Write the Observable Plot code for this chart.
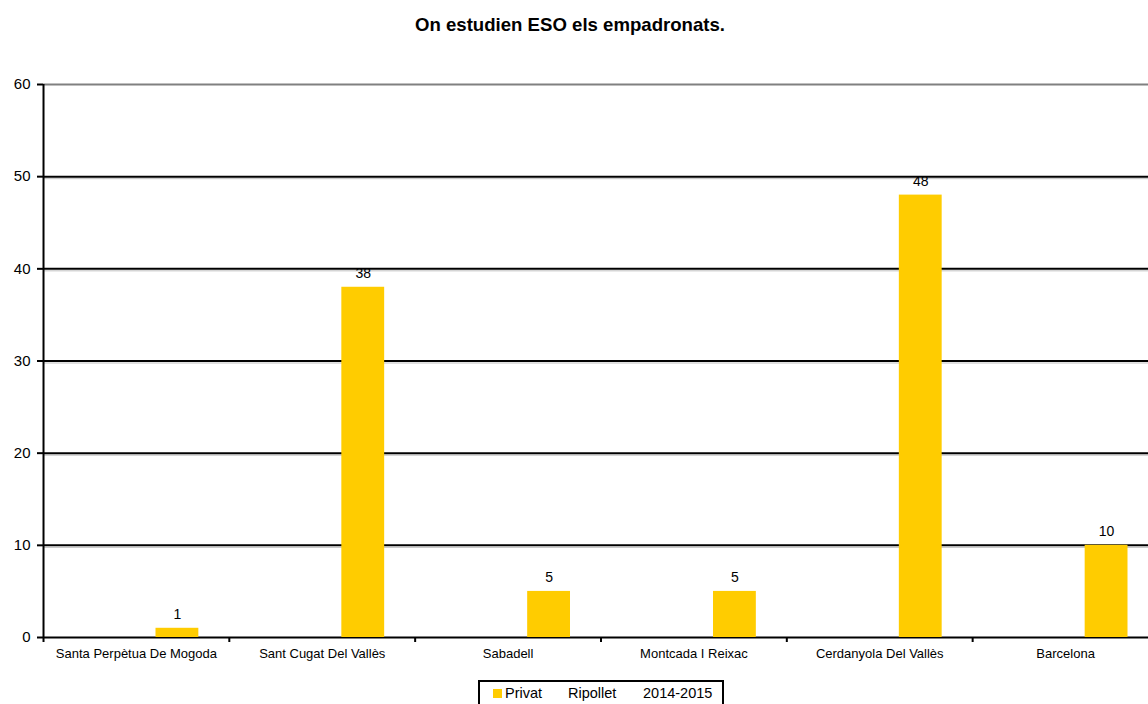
<!DOCTYPE html>
<html><head><meta charset="utf-8">
<script src="https://cdn.jsdelivr.net/npm/d3@7"></script>
<script src="https://cdn.jsdelivr.net/npm/@observablehq/plot@0.6"></script>
<style>
body{margin:0;background:#fff;font-family:"Liberation Sans",Arial,sans-serif;width:1148px;height:704px;overflow:hidden;position:relative;}
#title{height:50px;line-height:50px;text-align:center;font-weight:bold;font-size:18.6px;color:#000;padding-right:8px;}
#chart{height:620px;}
#legend{position:absolute;left:478px;top:680px;width:246px;height:30px;border:2px solid #000;box-sizing:border-box;font-size:14.5px;color:#000;}
#legend span{position:absolute;top:0;line-height:22px;}
#legend .sw{width:9px;height:9px;top:7px;}
</style></head><body>
<div id="title"></div>
<div id="chart"></div>
<div id="legend"></div>
<script>
const titleText = "On estudien ESO els empadronats.";
const cities = ["Santa Perpètua De Mogoda", "Sant Cugat Del Vallès", "Sabadell", "Montcada I Reixac", "Cerdanyola Del Vallès", "Barcelona"];
const privat = [1, 38, 5, 5, 48, 10];
const yTicks = [0, 10, 20, 30, 40, 50, 60];
const seriesName = "Privat";
const placeName = "Ripollet";
const yearName = "2014-2015";
const barColor = "#FFCC00";

document.getElementById("title").textContent = titleText;

const data = cities.map((c, i) => ({city: c, value: privat[i]}));

const chart = Plot.plot({
  width: 1148, height: 620,
  marginTop: 34, marginBottom: 33, marginLeft: 43, marginRight: 0,
  style: {fontFamily: "Liberation Sans, Arial, sans-serif", fontSize: "13px", background: "transparent", color: "#000"},
  x: {domain: cities, range: [43, 1158], padding: 0, round: false, label: null},
  y: {domain: [0, 60], label: null},
  marks: [
    Plot.ruleY(yTicks.filter(v => v > 0 && v < 60), {dy: 2, stroke: "#c0c0c0", strokeWidth: 1}),
    Plot.ruleY(yTicks.filter(v => v < 60), {stroke: "#000", strokeWidth: 2}),
    Plot.ruleY(yTicks.filter(v => v === 60), {stroke: "#808080", strokeWidth: 2}),
    Plot.barY(data, {x: "city", y: "value", fill: barColor, insetLeft: 112.5, insetRight: 30.5}),
    Plot.text(data, {x: "city", y: "value", text: "value", dx: 41, dy: -14, fontSize: 14, fill: "#000"}),
    Plot.axisY({ticks: yTicks, tickSize: 6, tickPadding: 7, stroke: "#000", strokeWidth: 2, fontSize: 15, label: null}),
    Plot.axisX({tickSize: 0, tickPadding: 11, fontSize: 13, label: null}),
    Plot.axisX({tickSize: 5, dx: 92.9, tickFormat: () => "", stroke: "#000", strokeWidth: 2, label: null}),
    Plot.ruleX(cities.slice(0, 1), {x: d => d, dx: -92.9, insetBottom: -5, stroke: "#000", strokeWidth: 2})
  ]
});
document.getElementById("chart").appendChild(chart);

const legend = document.getElementById("legend");
legend.innerHTML = `<span class="sw" style="left:13px;background:${barColor}"></span>` +
  `<span style="left:25px">${seriesName}</span>` +
  `<span style="left:88px">${placeName}</span>` +
  `<span style="left:163px">${yearName}</span>`;
</script>
</body></html>
